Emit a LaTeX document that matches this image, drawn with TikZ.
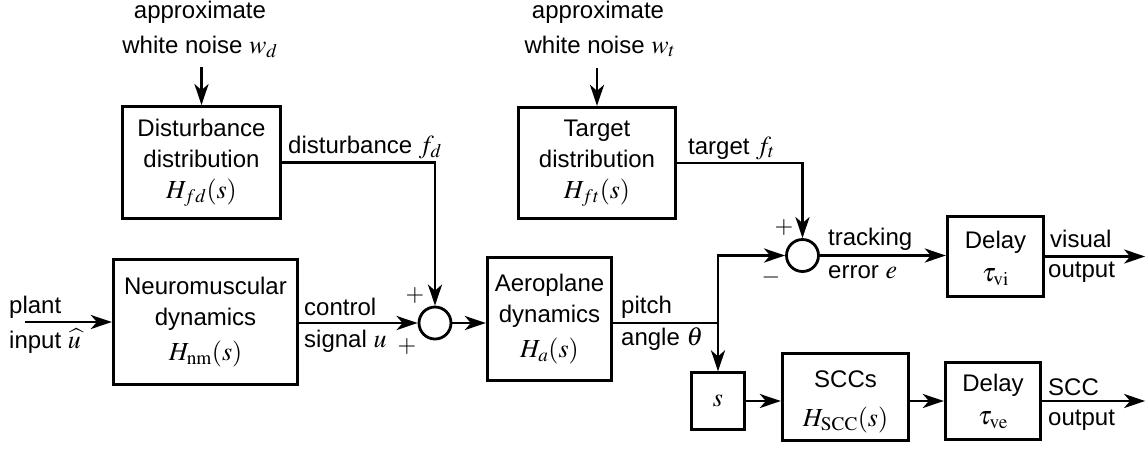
\documentclass[tikz,border=0pt]{standalone}
\usepackage{mathptmx}
\usepackage[no-math]{fontspec}
\setmainfont{Liberation Sans}
\usetikzlibrary{arrows.meta}
\newcommand\mth[1]{{\fontsize{26}{31}\selectfont$#1$}}
\begin{document}
\begin{tikzpicture}[x=1pt,y=-1pt,
  every node/.style={font=\fontsize{24}{31}\selectfont, inner sep=0pt},
  blk/.style={draw, line width=2.8pt, rectangle, align=center},
  sumnode/.style={draw, line width=2.8pt, circle, minimum size=32pt},
  lbl/.style={anchor=base west},
  sgn/.style={anchor=center},
  wire/.style={line width=2.8pt},
  arr/.style={wire, -{Stealth[length=21pt,width=14pt,inset=6pt]}},
]
\useasboundingbox (0,0) rectangle (1148,448);

% blocks
\node[blk, minimum width=158.5pt, minimum height=112pt] (dist) at (201.5,162.5) {Disturbance\\distribution\\\mth{H_{fd}(s)}};
\node[blk, minimum width=157.5pt, minimum height=111.5pt] (targ) at (597,163) {Target\\distribution\\\mth{H_{ft}(s)}};
\node[blk, minimum width=184.5pt, minimum height=125.5pt] (neuro) at (205.5,322) {Neuromuscular\\dynamics\\[4pt]\mth{H_{\mathrm{nm}}(s)}};
\node[blk, minimum width=124.5pt, minimum height=123.5pt] (aero) at (549.5,319) {Aeroplane\\dynamics\\[4pt]\mth{H_a(s)}};
\node[sumnode] (sum1) at (435,323) {};
\node[sumnode] (sum2) at (802.5,255.5) {};
\node[blk, minimum width=96.5pt, minimum height=80.5pt] (delvi) at (995.5,256.5) {\rule{0pt}{22pt}Delay\\[2pt]\mth{\tau_{\mathrm{vi}}}};
\node[blk, minimum width=53.5pt, minimum height=56.5pt] (sbox) at (718,401) {\mth{s}};
\node[blk, minimum width=126.5pt, minimum height=87.5pt] (scc) at (845.5,397) {\rule{0pt}{26pt}SCCs\\[8pt]\mth{H_{\mathrm{SCC}}(s)}};
\node[blk, minimum width=95.5pt, minimum height=76.5pt] (delve) at (993,401) {Delay\\[2pt]\mth{\tau_{\mathrm{ve}}}};

% noise texts
\node[anchor=base] (nwd1) at (200,18) {approximate};
\node[anchor=base] (nwd2) at (200,53) {white noise \mth{w_d}};
\node[anchor=base] (nwt1) at (598,18) {approximate};
\node[anchor=base] (nwt2) at (600,53) {white noise \mth{w_t}};

% signal labels
\node[lbl] (lfd) at (288,153) {disturbance \mth{f_d}};
\node[lbl] (lft) at (688,154) {target \mth{f_t}};
\node[lbl] (lc1) at (304,315) {control};
\node[lbl] (lc2) at (304,347) {signal \mth{u}};
\node[lbl] (lp1) at (9,313) {plant};
\node[lbl] (lp2) at (9,348) {input \mth{\widehat{u}}};
\node[lbl] (lpa1) at (621,313) {pitch};
\node[lbl] (lpa2) at (621,345) {angle \mth{\theta}};
\node[lbl] (lt1) at (828,245) {tracking};
\node[lbl] (lt2) at (828,278) {error \mth{e}};
\node[lbl] (lv1) at (1050,247) {visual};
\node[lbl] (lv2) at (1048,277) {output};
\node[lbl] (ls1) at (1048,395) {SCC};
\node[lbl] (ls2) at (1048,425) {output};

% signs
\node[sgn] (p1) at (415,295) {$+$};
\node[sgn] (p2) at (407,346) {$+$};
\node[sgn] (p3) at (784,227) {$+$};
\node[sgn] (m1) at (771,277) {$-$};

% coordinates for free ends
\coordinate (wd) at ([yshift=38pt]dist.north);
\coordinate (wt) at ([yshift=38pt]targ.north);
\coordinate (pin) at (25,322);
\coordinate (br) at (sbox.north |- sum1.east);
\coordinate (vo) at ([xshift=100pt]delvi.east);
\coordinate (so) at ([xshift=103pt]delve.east);

% connectors
\draw[arr] (wd) -- (dist.north);
\draw[arr] (wt) -- (targ.north);
\draw[arr] (dist.east) -| (sum1.north);
\draw[arr] (targ.east) -| (sum2.north);
\draw[arr] (pin) -- (neuro.west);
\draw[arr] (neuro.east |- sum1.west) -- (sum1.west);
\draw[arr] (sum1.east) -- (sum1.east -| aero.west);
\draw[wire] (aero.east |- br) -- (br);
\draw[arr] (br) |- (sum2.west);
\draw[arr] (br) -- (sbox.north);
\draw[arr] (sum2.east) -- (sum2.east -| delvi.west);
\draw[arr] (delvi.east) -- (vo);
\draw[arr] (sbox.east) -- (sbox.east -| scc.west);
\draw[arr] (sbox.east -| scc.east) -- (sbox.east -| delve.west);
\draw[arr] (delve.east) -- (so);
\end{tikzpicture}
\end{document}
